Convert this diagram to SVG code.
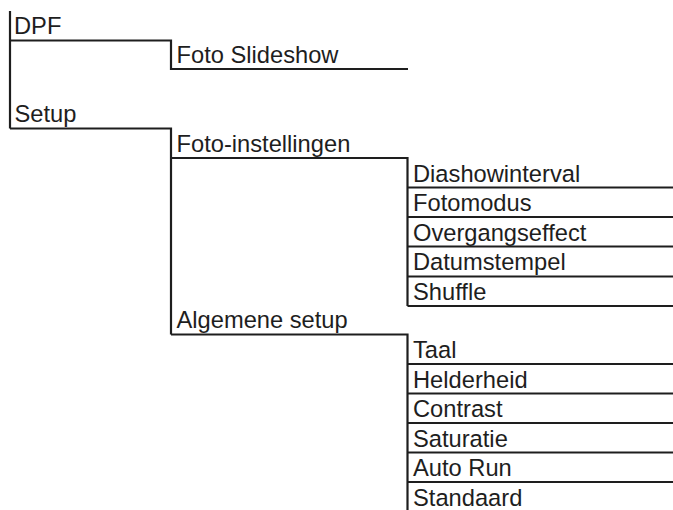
<svg xmlns="http://www.w3.org/2000/svg" width="673" height="510" viewBox="0 0 673 510">
<style>
.c{fill:none;stroke:#1e1e1e;stroke-width:2.2;stroke-linecap:butt;stroke-linejoin:miter}
text{font-family:"Liberation Sans",Arial,sans-serif;font-size:23.7px;fill:#1e1e1e}
</style>
<rect width="673" height="510" fill="#fff"/>
<g id="connectors">
<path class="c" d="M10,11 V128.5"/>
<path class="c" d="M10,40.5 H171 V69 H408"/>
<path class="c" d="M10,128.5 H171 V334.5"/>
<path class="c" d="M171,158 H407.5 V306"/>
<path class="c" d="M407.5,187.5 H673 M407.5,217 H673 M407.5,246.5 H673 M407.5,276.5 H673 M407.5,306 H673"/>
<path class="c" d="M171,334.5 H407.5 V510"/>
<path class="c" d="M407.5,364 H673 M407.5,393.5 H673 M407.5,423 H673 M407.5,452.5 H673 M407.5,482 H673"/>
</g>
<g id="dpf"><text x="14" y="34">DPF</text></g>
<g id="foto-slideshow"><text x="176.5" y="63">Foto Slideshow</text></g>
<g id="setup"><text x="14.5" y="121.5">Setup</text></g>
<g id="foto-instellingen"><text x="176.5" y="151.5">Foto-instellingen</text></g>
<g id="diashowinterval"><text x="413" y="182">Diashowinterval</text></g>
<g id="fotomodus"><text x="413" y="211">Fotomodus</text></g>
<g id="overgangseffect"><text x="413" y="240.5">Overgangseffect</text></g>
<g id="datumstempel"><text x="413" y="270">Datumstempel</text></g>
<g id="shuffle"><text x="413" y="300">Shuffle</text></g>
<g id="algemene-setup"><text x="176.5" y="328">Algemene setup</text></g>
<g id="taal"><text x="413" y="358">Taal</text></g>
<g id="helderheid"><text x="413" y="387.5">Helderheid</text></g>
<g id="contrast"><text x="413" y="417">Contrast</text></g>
<g id="saturatie"><text x="413" y="446.5">Saturatie</text></g>
<g id="auto-run"><text x="413" y="476">Auto Run</text></g>
<g id="standaard"><text x="413" y="505.5">Standaard</text></g>
</svg>
